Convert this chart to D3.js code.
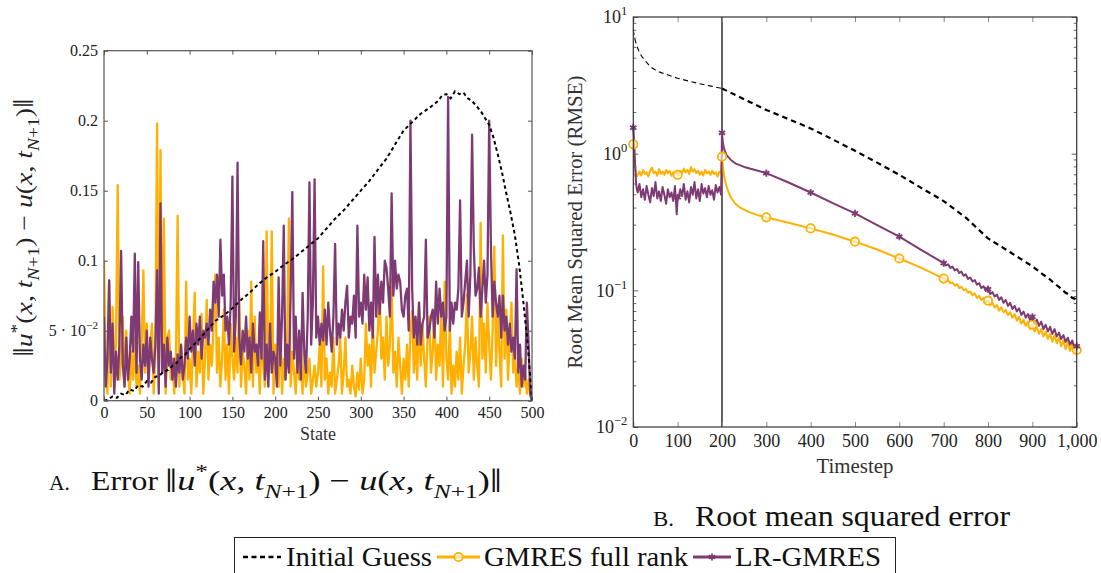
<!DOCTYPE html>
<html><head><meta charset="utf-8">
<script src="https://cdn.jsdelivr.net/npm/d3@7"></script>
<style>
html,body{margin:0;padding:0;background:#fff;}
svg{display:block;}
</style></head><body>
<svg id="chart" width="1101" height="573"></svg>
<script>
// ---------------- DATA ----------------
// Left panel: error per state (values in thousandths), one value every 2 states (0..500)
const stateStep = 2;
const errGmresMilli = [
  100,20,5,86,10,67,25,40,154,15,
  30,60,10,50,20,5,35,15,45,10,
  25,5,40,93,20,55,15,38,55,5,
  35,198,10,179,20,130,5,45,50,15,
  30,5,25,132,10,40,20,5,85,15,
  30,5,45,77,10,35,20,62,5,30,
  72,15,40,25,55,90,20,45,10,30,
  65,15,40,5,55,30,15,45,20,75,
  10,35,25,5,50,15,85,10,60,20,
  35,5,45,25,10,121,15,30,121,5,
  40,20,10,55,5,30,15,45,130,10,
  35,20,5,40,15,25,5,35,10,20,
  30,5,15,25,10,20,40,10,96,15,
  30,5,20,10,45,5,15,25,45,5,
  20,45,10,15,5,25,10,3,20,8,
  30,5,15,55,25,40,10,60,20,35,
  50,81,30,45,15,60,25,40,87,20,
  35,10,45,25,5,30,15,40,10,50,
  64,20,45,15,70,25,55,30,10,45,
  60,20,35,64,15,40,25,65,10,85,
  30,15,55,5,25,10,35,15,45,5,
  25,40,76,20,35,60,15,45,25,10,
  127,30,55,20,70,40,15,50,110,25,
  60,35,10,118,30,65,15,45,70,20,
  35,10,25,5,30,10,20,5,15,3,
  10
];
const errLrGmresMilli = [
  60,10,30,86,20,55,5,35,15,40,
  107,25,10,45,15,30,60,35,105,20,
  99,30,15,40,25,50,10,45,30,20,
  40,93,5,141,20,40,10,45,25,35,
  15,30,10,33,20,40,15,25,45,30,
  60,35,50,25,55,40,60,30,50,45,
  55,40,65,50,85,70,90,60,115,75,
  90,50,60,40,70,160,35,60,170,45,
  26,50,35,60,30,45,20,55,35,40,
  25,63,30,114,15,40,10,55,20,35,
  30,10,88,25,60,125,15,40,20,75,
  149,30,60,20,50,15,77,35,20,60,
  156,40,70,158,45,60,40,55,43,65,
  40,70,50,35,60,112,40,55,45,65,
  50,70,82,45,60,55,75,45,125,60,
  70,55,90,65,88,50,70,45,117,60,
  90,62,85,70,100,95,80,60,148,75,
  100,80,90,85,65,60,75,80,50,200,
  80,45,60,40,70,40,55,60,115,45,
  50,60,65,45,85,55,80,60,70,50,
  60,217,50,70,55,70,65,80,143,60,
  70,85,100,60,90,190,110,75,80,95,
  60,80,100,70,90,200,110,60,85,70,
  60,75,45,75,50,60,40,55,35,45,
  30,94,20,40,10,25,15,70,40,5,
  0
];
const errInitial = [
  [0,0],[5,0.001],[10,0.003],[15,0.002],[20,0.005],[25,0.004],[30,0.008],[35,0.007],
  [40,0.011],[45,0.010],[50,0.014],[55,0.013],[60,0.017],[65,0.018],[70,0.021],[75,0.022],
  [80,0.025],[85,0.027],[90,0.031],[95,0.033],[100,0.037],[110,0.043],[120,0.050],[130,0.057],
  [140,0.061],[150,0.066],[160,0.072],[170,0.077],[180,0.083],[190,0.088],[200,0.092],[210,0.097],
  [220,0.101],[230,0.106],[240,0.111],[250,0.116],[260,0.123],[270,0.130],[280,0.136],[290,0.143],
  [300,0.150],[310,0.157],[320,0.165],[330,0.173],[340,0.183],[350,0.193],[360,0.199],[370,0.205],
  [380,0.209],[390,0.214],[395,0.218],[400,0.219],[405,0.216],[410,0.221],[415,0.219],[420,0.220],
  [425,0.216],[430,0.214],[440,0.207],[450,0.197],[455,0.188],[460,0.176],[465,0.163],[470,0.148],
  [475,0.134],[480,0.118],[485,0.097],[490,0.070],[495,0.040],[500,0.0]
];
const leftXTicks = [0,50,100,150,200,250,300,350,400,450,500];
const leftYTicks = [0,0.05,0.1,0.15,0.2,0.25];
const leftYTickLabels = ["0","5 · 10|−2","0.1","0.15","0.2","0.25"];

// Right panel: RMSE per timestep [timestep, value]
const rmseInitial = [
  [0,8.0],[2,7.3],[5,6.6],[10,5.9],[15,5.4],[20,5.1],[30,4.65],[40,4.3],[50,4.1],[60,3.95],
  [80,3.75],[100,3.56],[125,3.4],[150,3.25],[175,3.12],[200,3.0],[250,2.5],[300,2.09],[350,1.79],
  [400,1.53],[450,1.27],[500,1.05],[550,0.86],[600,0.70],[650,0.56],[700,0.45],[750,0.34],
  [800,0.24],[850,0.19],[900,0.15],[925,0.13],[940,0.12],[950,0.112],[960,0.106],[965,0.102],
  [970,0.099],[975,0.096],[980,0.094],[985,0.091],[990,0.088],[995,0.087],[1000,0.085]
];
const rmseGmres = [
  [0,1.17],[2,1.0],[4,0.8],[6,0.72],[8,0.68],
  [10,0.70],[14,0.74],[18,0.69],[22,0.76],[26,0.71],[30,0.73],[34,0.68],[38,0.75],[42,0.79],[46,0.72],
  [50,0.74],[54,0.69],[58,0.77],[62,0.71],[66,0.74],[70,0.70],[74,0.76],[78,0.72],[82,0.75],[86,0.69],
  [90,0.73],[94,0.71],[98,0.74],[100,0.70],[102,0.70],[106,0.75],[110,0.72],[114,0.78],[118,0.73],[122,0.76],
  [126,0.71],[130,0.80],[134,0.74],[138,0.77],[142,0.72],[146,0.75],[150,0.70],[154,0.74],[158,0.69],
  [162,0.76],[166,0.72],[170,0.74],[174,0.70],[178,0.75],[182,0.71],[186,0.73],[190,0.68],[194,0.74],[198,0.72],
  [200,0.95],[202,0.80],[205,0.68],[210,0.58],[215,0.52],[220,0.48],[230,0.43],[240,0.405],[250,0.39],
  [260,0.375],[280,0.355],[300,0.342],[350,0.312],[400,0.284],[450,0.256],[500,0.227],[550,0.199],
  [600,0.171],[650,0.146],
  [700,0.122],[705,0.117],[710,0.119],[715,0.113],[720,0.114],[725,0.108],[730,0.111],[735,0.104],
  [740,0.106],[745,0.100],[750,0.102],[755,0.096],[760,0.098],[765,0.092],[770,0.095],[775,0.088],
  [780,0.091],[785,0.085],[790,0.088],[795,0.081],[800,0.084],[805,0.078],[810,0.081],[815,0.075],
  [820,0.078],[825,0.071],[830,0.075],[835,0.069],[840,0.072],[845,0.066],[850,0.069],[855,0.063],
  [860,0.067],[865,0.060],[870,0.064],[875,0.057],[880,0.061],[885,0.055],[890,0.059],[895,0.052],
  [900,0.056],[905,0.050],[910,0.054],[915,0.048],[920,0.052],[925,0.046],[930,0.050],[935,0.044],
  [940,0.048],[945,0.042],[950,0.047],[955,0.041],[960,0.045],[965,0.039],[970,0.043],[975,0.037],
  [980,0.042],[985,0.036],[990,0.040],[995,0.035],[1000,0.0366]
];
const rmseLrGmres = [
  [0,1.55],[2,1.2],[4,0.85],[6,0.62],[8,0.55],
  [10,0.52],[14,0.60],[18,0.48],[22,0.55],[26,0.46],[30,0.58],[34,0.50],[38,0.44],[42,0.56],[46,0.49],
  [50,0.62],[54,0.47],[58,0.53],[62,0.45],[66,0.57],[70,0.50],[74,0.43],[78,0.55],[82,0.48],[86,0.52],
  [90,0.45],[94,0.58],[98,0.36],[100,0.48],[102,0.47],[106,0.55],[110,0.49],[114,0.60],[118,0.46],[122,0.53],
  [126,0.44],[130,0.57],[134,0.50],[138,0.62],[142,0.47],[146,0.55],[150,0.45],[154,0.60],[158,0.51],
  [162,0.56],[166,0.48],[170,0.58],[174,0.50],[178,0.54],[182,0.46],[186,0.59],[190,0.52],[194,0.57],[198,0.50],
  [200,1.42],[202,1.2],[205,1.08],[210,0.98],[220,0.9],[230,0.85],[250,0.80],[275,0.76],[300,0.72],
  [350,0.615],[400,0.52],[450,0.435],[500,0.366],[550,0.30],[600,0.247],[650,0.197],
  [700,0.158],[705,0.152],[710,0.155],[715,0.146],[720,0.149],[725,0.140],[730,0.143],[735,0.134],
  [740,0.137],[745,0.128],[750,0.131],[755,0.121],[760,0.124],[765,0.116],[770,0.119],[775,0.110],
  [780,0.113],[785,0.104],[790,0.107],[795,0.099],[800,0.102],[805,0.094],[810,0.097],[815,0.090],
  [820,0.093],[825,0.085],[830,0.089],[835,0.081],[840,0.085],[845,0.077],[850,0.081],[855,0.073],
  [860,0.077],[865,0.070],[870,0.074],[875,0.066],[880,0.070],[885,0.063],[890,0.067],[895,0.060],
  [900,0.064],[905,0.057],[910,0.061],[915,0.055],[920,0.059],[925,0.052],[930,0.056],[935,0.050],
  [940,0.054],[945,0.048],[950,0.052],[955,0.046],[960,0.049],[965,0.044],[970,0.047],[975,0.042],
  [980,0.045],[985,0.040],[990,0.043],[995,0.038],[1000,0.039]
];
const markerSteps = [0,100,200,300,400,500,600,700,800,900,1000];
const splitStep = 200;
const rightXTicks = [0,100,200,300,400,500,600,700,800,900,1000];
const rightYTicks = [0.01,0.1,1,10];
const rightYTickLabels = ["10|−2","10|−1","10|0","10|1"];
const legendLabels = ["Initial Guess","GMRES full rank","LR-GMRES"];

// ---------------- FONT PICK ----------------
function pickFont(cands){
  const c = document.createElement('canvas').getContext('2d');
  const s = 'Root Mean Squared Error 0123456789 ilWM';
  c.font = '40px monospace'; const wm = c.measureText(s).width;
  c.font = '40px sans-serif'; const ws = c.measureText(s).width;
  for (const f of cands){
    c.font = `40px "${f}", monospace`; const a = c.measureText(s).width;
    c.font = `40px "${f}", sans-serif`; const b = c.measureText(s).width;
    if (a !== wm && Math.abs(a-b) < 0.01) return `"${f}"`;
  }
  return 'serif';
}
const SERIF = pickFont(['Liberation Serif','DejaVu Serif','Noto Serif','Tinos','Times New Roman','Times',
  'FreeSerif','Nimbus Roman','Nimbus Roman No9 L','Georgia','Latin Modern Roman','CMU Serif','Noto Serif CJK SC','Noto Serif CJK JP']);

// ---------------- DRAWING ----------------
const ORANGE = '#FFB000', PURPLE = '#7E3B73';
const svg = d3.select('#chart').attr('font-family', SERIF).style('font-family', SERIF);

function mathText(sel, segs, size){
  let shift = 0;
  segs.forEach(([t, st]) => {
    const ts = sel.append('tspan').text(t);
    let target = 0, fs = size;
    if (st.includes('sup')) { target = -0.42*size; fs = size*0.7; }
    if (st.includes('sub')) { target = 0.28*size; fs = size*0.7; }
    if (st.includes('big')) { fs = size*1.2; target = 0.06*size; }
    ts.attr('dy', (target - shift).toFixed(2)).attr('font-size', fs.toFixed(2));
    shift = target;
    if (st.includes('i')) ts.attr('font-style', 'italic');
  });
}
function supLabel(textSel, lab, size){
  textSel.text(null);
  const [b, s] = lab.split('|');
  textSel.append('tspan').text(b);
  if (s !== undefined) textSel.append('tspan').attr('dy', -0.45*size).attr('font-size', size*0.7).text(s);
}
const normSegs = [['‖','big'],['u','i'],['*','sup'],['(',''],['x','i'],[', ',''],['t','i'],['N','subi'],['+1','sub'],[') − ',''],
  ['u','i'],['(',''],['x','i'],[', ',''],['t','i'],['N','subi'],['+1','sub'],[')',''],['‖','big']];

// ===== Left panel =====
const L = {x0:104, x1:532, y0:50.7, y1:400.7};
const xL = d3.scaleLinear().domain([0,500]).range([L.x0, L.x1]);
const yL = d3.scaleLinear().domain([0,0.25]).range([L.y1, L.y0]);
svg.append('clipPath').attr('id','clipL').append('rect')
  .attr('x',L.x0).attr('y',L.y0-3).attr('width',L.x1-L.x0).attr('height',L.y1-L.y0+3);

const lineL = d3.line().x(d=>xL(d[0])).y(d=>yL(d[1]));
const gmresPts = errGmresMilli.map((v,i)=>[i*stateStep, v/1000]);
const lrPts = errLrGmresMilli.map((v,i)=>[i*stateStep, v/1000]);
const plotL = svg.append('g').attr('clip-path','url(#clipL)');
plotL.append('path').datum(gmresPts).attr('d',lineL).attr('fill','none')
  .attr('stroke',ORANGE).attr('stroke-width',2.3).attr('stroke-linejoin','round');
plotL.append('path').datum(lrPts).attr('d',lineL).attr('fill','none')
  .attr('stroke',PURPLE).attr('stroke-width',2.3).attr('stroke-linejoin','round');
plotL.append('path').datum(errInitial).attr('d',lineL).attr('fill','none')
  .attr('stroke','#000').attr('stroke-width',2).attr('stroke-dasharray','3.5,3');

const axisColL = '#555';
function styleAxis(g, col){
  g.attr('font-family', SERIF);
  g.select('.domain').remove();
  g.selectAll('.tick line').attr('stroke', col);
  g.selectAll('.tick text').attr('fill','#222');
}
const gxL = svg.append('g').attr('transform',`translate(0,${L.y1})`)
  .call(d3.axisBottom(xL).tickValues(leftXTicks).tickSize(-4).tickPadding(6).tickFormat(d3.format('d')))
  .attr('font-size',16);
styleAxis(gxL, axisColL);
const gxLt = svg.append('g').attr('transform',`translate(0,${L.y0})`)
  .call(d3.axisTop(xL).tickValues(leftXTicks).tickSize(-4).tickFormat(''));
styleAxis(gxLt, axisColL);
const gyL = svg.append('g').attr('transform',`translate(${L.x0},0)`)
  .call(d3.axisLeft(yL).tickValues(leftYTicks).tickSize(-4).tickPadding(6))
  .attr('font-size',16);
styleAxis(gyL, axisColL);
gyL.selectAll('.tick text').each(function(d,i){ supLabel(d3.select(this), leftYTickLabels[i], 16); });
const gyLr = svg.append('g').attr('transform',`translate(${L.x1},0)`)
  .call(d3.axisRight(yL).tickValues(leftYTicks).tickSize(-4).tickFormat(''));
styleAxis(gyLr, axisColL);
svg.append('rect').attr('x',L.x0).attr('y',L.y0).attr('width',L.x1-L.x0).attr('height',L.y1-L.y0)
  .attr('fill','none').attr('stroke',axisColL).attr('stroke-width',1.2);

svg.append('text').attr('x',(L.x0+L.x1)/2).attr('y',440).attr('text-anchor','middle')
  .attr('font-size',18).attr('fill','#333').text('State');
const ylabL = svg.append('text').attr('transform',`translate(32,${(L.y0+L.y1)/2+2}) rotate(-90)`)
  .attr('text-anchor','middle').attr('font-size',24).attr('fill','#222')
  .attr('textLength',258).attr('lengthAdjust','spacingAndGlyphs');
mathText(ylabL, normSegs, 24);

// ===== Right panel =====
const R = {x0:633.3, x1:1076.7, y0:17, y1:427};
const xR = d3.scaleLinear().domain([0,1000]).range([R.x0, R.x1]);
const yR = d3.scaleLog().domain([0.01,10]).range([R.y1, R.y0]);
svg.append('clipPath').attr('id','clipR').append('rect')
  .attr('x',R.x0-6).attr('y',R.y0).attr('width',R.x1-R.x0+12).attr('height',R.y1-R.y0);
const lineR = d3.line().x(d=>xR(d[0])).y(d=>yR(d[1]));
const plotR = svg.append('g').attr('clip-path','url(#clipR)');
plotR.append('path').datum(rmseInitial.filter(d=>d[0]<=splitStep)).attr('d',lineR).attr('fill','none')
  .attr('stroke','#000').attr('stroke-width',1.1).attr('stroke-dasharray','5,3.5');
plotR.append('path').datum(rmseInitial.filter(d=>d[0]>=splitStep)).attr('d',lineR).attr('fill','none')
  .attr('stroke','#000').attr('stroke-width',2.2).attr('stroke-dasharray','5.5,4');
plotR.append('line').attr('x1',xR(splitStep)).attr('x2',xR(splitStep)).attr('y1',R.y0).attr('y2',R.y1)
  .attr('stroke','#111').attr('stroke-width',1.3);
plotR.append('path').datum(rmseGmres).attr('d',lineR).attr('fill','none')
  .attr('stroke',ORANGE).attr('stroke-width',2).attr('stroke-linejoin','round');
plotR.append('path').datum(rmseLrGmres).attr('d',lineR).attr('fill','none')
  .attr('stroke',PURPLE).attr('stroke-width',2).attr('stroke-linejoin','round');

function starPath(r){
  let p='';
  for(let k=0;k<3;k++){ const a=Math.PI/2 + k*Math.PI/3; const dx=r*Math.cos(a), dy=r*Math.sin(a);
    p+=`M${(-dx).toFixed(2)},${(-dy).toFixed(2)}L${dx.toFixed(2)},${dy.toFixed(2)}`; }
  return p;
}
const gmresMarks = rmseGmres.filter(d=>markerSteps.includes(d[0]));
const lrMarks = rmseLrGmres.filter(d=>markerSteps.includes(d[0]));
plotR.selectAll('circle.gm').data(gmresMarks).join('circle').attr('class','gm')
  .attr('cx',d=>xR(d[0])).attr('cy',d=>yR(d[1])).attr('r',4.2)
  .attr('fill','#fff').attr('fill-opacity',0.6).attr('stroke',ORANGE).attr('stroke-width',1.8);
plotR.selectAll('path.lr').data(lrMarks).join('path').attr('class','lr')
  .attr('transform',d=>`translate(${xR(d[0])},${yR(d[1])})`).attr('d',starPath(3.6))
  .attr('fill','none').attr('stroke',PURPLE).attr('stroke-width',1.8);

const axisColR = '#333';
const gxR = svg.append('g').attr('transform',`translate(0,${R.y1})`)
  .call(d3.axisBottom(xR).tickValues(rightXTicks).tickSize(-5).tickPadding(7).tickFormat(d3.format(',')))
  .attr('font-size',18);
styleAxis(gxR, '#888');
const gxRt = svg.append('g').attr('transform',`translate(0,${R.y0})`)
  .call(d3.axisTop(xR).tickValues(rightXTicks).tickSize(-5).tickFormat(''));
styleAxis(gxRt, '#888');
const gyR = svg.append('g').attr('transform',`translate(${R.x0},0)`)
  .call(d3.axisLeft(yR).tickValues(rightYTicks).tickSize(-5).tickPadding(6))
  .attr('font-size',18);
styleAxis(gyR, '#666');
gyR.selectAll('.tick text').each(function(d,i){ supLabel(d3.select(this), rightYTickLabels[i], 18); });
const gyRr = svg.append('g').attr('transform',`translate(${R.x1},0)`)
  .call(d3.axisRight(yR).tickValues(rightYTicks).tickSize(-5).tickFormat(''));
styleAxis(gyRr, '#666');
const minorR = yR.ticks().filter(v => !rightYTicks.some(m => Math.abs(m - v) < 1e-12));
const gMinor = svg.append('g');
gMinor.selectAll('line.ml').data(minorR).join('line').attr('class','ml')
  .attr('x1',R.x0).attr('x2',R.x0+3).attr('y1',d=>yR(d)).attr('y2',d=>yR(d)).attr('stroke','#666');
gMinor.selectAll('line.mr').data(minorR).join('line').attr('class','mr')
  .attr('x1',R.x1-3).attr('x2',R.x1).attr('y1',d=>yR(d)).attr('y2',d=>yR(d)).attr('stroke','#666');
svg.append('rect').attr('x',R.x0).attr('y',R.y0).attr('width',R.x1-R.x0).attr('height',R.y1-R.y0)
  .attr('fill','none').attr('stroke',axisColR).attr('stroke-width',1.2);

svg.append('text').attr('x',(R.x0+R.x1)/2).attr('y',473).attr('text-anchor','middle')
  .attr('font-size',20).attr('fill','#333').attr('textLength',77).attr('lengthAdjust','spacingAndGlyphs').text('Timestep');
svg.append('text').attr('transform',`translate(582,${(R.y0+R.y1)/2}) rotate(-90)`)
  .attr('text-anchor','middle').attr('font-size',20).attr('fill','#333')
  .attr('textLength',293).attr('lengthAdjust','spacingAndGlyphs')
  .text('Root Mean Squared Error (RMSE)');

// ===== Captions =====
svg.append('text').attr('x',49).attr('y',490).attr('font-size',21).attr('fill','#111')
  .attr('textLength',21).attr('lengthAdjust','spacingAndGlyphs').text('A.');
svg.append('text').attr('x',91).attr('y',490).attr('font-size',28).attr('fill','#111')
  .attr('textLength',67).attr('lengthAdjust','spacingAndGlyphs').text('Error');
const capAm = svg.append('text').attr('x',165).attr('y',490).attr('font-size',28).attr('fill','#111')
  .attr('textLength',337).attr('lengthAdjust','spacingAndGlyphs');
mathText(capAm, normSegs, 28);
svg.append('text').attr('x',653).attr('y',526).attr('font-size',21).attr('fill','#111')
  .attr('textLength',21).attr('lengthAdjust','spacingAndGlyphs').text('B.');
svg.append('text').attr('x',695).attr('y',526).attr('font-size',29).attr('fill','#111')
  .attr('textLength',315).attr('lengthAdjust','spacingAndGlyphs').text('Root mean squared error');

// ===== Legend =====
const lg = svg.append('g');
lg.append('rect').attr('x',234.5).attr('y',537.5).attr('width',661).attr('height',60)
  .attr('fill','#fff').attr('stroke','#222').attr('stroke-width',1);
const legY = 557;
const legStyles = [
  {col:'#000', dash:'5,3.5', w:2.4, mark:null},
  {col:ORANGE, dash:null, w:2.8, mark:'circle'},
  {col:PURPLE, dash:null, w:2.8, mark:'star'}
];
const sampleStarts = [243, 437, 693];
const sampleWidths = [38, 43, 38];
const textStarts = [286, 484, 735];
const textWidths = [146, 204, 146];
legendLabels.forEach((lab,i)=>{
  const st = legStyles[i], sx = sampleStarts[i], sw = sampleWidths[i];
  const ln = lg.append('line').attr('x1',sx).attr('x2',sx+sw).attr('y1',legY).attr('y2',legY)
    .attr('stroke',st.col).attr('stroke-width',st.w);
  if (st.dash) ln.attr('stroke-dasharray',st.dash);
  if (st.mark==='circle') lg.append('circle').attr('cx',sx+sw/2).attr('cy',legY).attr('r',4.2)
    .attr('fill','#fff').attr('fill-opacity',0.6).attr('stroke',st.col).attr('stroke-width',1.8);
  if (st.mark==='star') lg.append('path').attr('transform',`translate(${sx+sw/2},${legY})`).attr('d',starPath(3.6))
    .attr('fill','none').attr('stroke',st.col).attr('stroke-width',1.8);
  lg.append('text').attr('x',textStarts[i]).attr('y',legY+9).attr('font-size',28).attr('fill','#111')
    .attr('textLength',textWidths[i]).attr('lengthAdjust','spacingAndGlyphs').text(lab);
});
</script>
</body></html>
